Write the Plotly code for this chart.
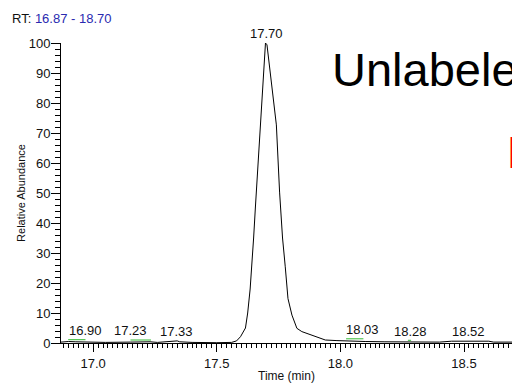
import plotly.graph_objects as go

# ---- data ----
time_min = [16.87, 16.90, 16.93, 16.97, 17.05, 17.15, 17.20, 17.23, 17.26, 17.30, 17.31, 17.34,
            17.35, 17.40, 17.50, 17.56, 17.58, 17.596, 17.616, 17.625, 17.635, 17.642, 17.649,
            17.656, 17.665, 17.677, 17.697, 17.703, 17.722, 17.741, 17.754, 17.766, 17.777,
            17.788, 17.804, 17.824, 17.844, 17.87, 17.905, 17.939, 17.986, 18.04, 18.10, 18.18,
            18.25, 18.30, 18.40, 18.45, 18.52, 18.60, 18.62, 18.70]
rel_abundance = [0.3, 0.5, 0.4, 0.3, 0.2, 0.3, 0.4, 0.4, 0.2, 0.5, 0.7, 0.7,
                 0.4, 0.2, 0.1, 0.2, 0.7, 2.1, 5.0, 10.0, 18.0, 25.0, 35.0,
                 45.0, 58.0, 72.7, 100.0, 99.4, 86.0, 72.7, 50.3, 35.0, 25.4,
                 14.8, 9.3, 4.9, 3.8, 3.0, 2.1, 1.0, 0.8, 0.6, 0.5, 0.4,
                 0.3, 0.3, 0.3, 0.6, 0.7, 0.6, 0.3, 0.3]

peak_labels = ["16.90", "17.23", "17.33", "17.70", "18.03", "18.28", "18.52"]
peak_times = [16.90, 17.23, 17.33, 17.70, 18.03, 18.28, 18.52]
peak_heights = [1.1, 1.0, 0.7, 100.0, 1.4, 0.6, 0.7]

green_start = [16.899, 17.151, 18.023, 18.273]
green_end = [16.969, 17.234, 18.093, 18.286]
green_level = [1.1, 1.0, 1.4, 0.9]

rt_start, rt_end = "16.87", "18.70"

# ---- style (pixel offsets for label placement) ----
label_xshift = [17, -20, 2, 0, 15, 1, 0]

FONT = "Liberation Sans, Arial, sans-serif"

fig = go.Figure()
fig.add_trace(go.Scatter(x=time_min, y=rel_abundance, mode="lines",
                         line=dict(color="black", width=1), cliponaxis=False,
                         showlegend=False, hoverinfo="skip"))
for s, e, lv in zip(green_start, green_end, green_level):
    fig.add_trace(go.Scatter(x=[s, e], y=[lv, lv], mode="lines",
                             line=dict(color="#33bb33", width=1), showlegend=False,
                             hoverinfo="skip"))

annotations = []
for lab, t, h, dx in zip(peak_labels, peak_times, peak_heights, label_xshift):
    annotations.append(dict(x=t, y=h, xref="x", yref="y", text=lab, showarrow=False,
                            xanchor="center", yanchor="bottom", xshift=dx, yshift=0,
                            font=dict(family=FONT, size=13, color="#111111")))

annotations.append(dict(xref="paper", yref="paper", x=(10 - 61) / 451, y=(343 - 19) / 300,
                        xanchor="left", yanchor="middle", showarrow=False,
                        text=f"RT: <span style='color:#2a2ab0'>{rt_start} - {rt_end}</span>",
                        font=dict(family=FONT, size=13, color="#111111")))
annotations.append(dict(xref="paper", yref="paper", x=(329.5 - 61) / 451, y=(343 - 69) / 300,
                        xanchor="left", yanchor="middle", showarrow=False,
                        text="Unlabeled",
                        font=dict(family=FONT, size=47, color="black")))
annotations.append(dict(xref="paper", yref="paper", x=(505 - 61) / 451, y=(343 - 152) / 300,
                        xanchor="left", yanchor="middle", showarrow=False,
                        text="D",
                        font=dict(family=FONT, size=44, color="#ff0000")))

fig.update_layout(
    width=512, height=384,
    margin=dict(l=61, r=0, t=43, b=41, pad=0),
    paper_bgcolor="white", plot_bgcolor="white",
    font=dict(family=FONT, size=13, color="black"),
    annotations=annotations,
    xaxis=dict(range=[16.87, 18.694], showline=True, linecolor="black", linewidth=1,
               ticks="outside", ticklen=8, tickcolor="black", tickwidth=1,
               tick0=17.0, dtick=0.5, tickformat=".1f", showgrid=False, zeroline=False,
               tickfont=dict(family=FONT, size=13, color="#111111"),
               minor=dict(dtick=0.02, tick0=17.0, ticks="outside", ticklen=4,
                          tickcolor="black", showgrid=False),
               title=dict(text="Time (min)", font=dict(family=FONT, size=12, color="#111111"),
                          standoff=2)),
    yaxis=dict(range=[0, 100], showline=True, linecolor="black", linewidth=1,
               ticks="outside", ticklen=9, tickcolor="black", tickwidth=1,
               tick0=0, dtick=10, showgrid=False, zeroline=False,
               ticklabelstandoff=-2,
               tickfont=dict(family=FONT, size=13, color="#111111"),
               minor=dict(dtick=2, ticks="outside", ticklen=5, tickcolor="black",
                          showgrid=False),
               title=dict(text="Relative Abundance",
                          font=dict(family=FONT, size=11, color="#111111"), standoff=0)),
)

fig.write_html("out.html")
